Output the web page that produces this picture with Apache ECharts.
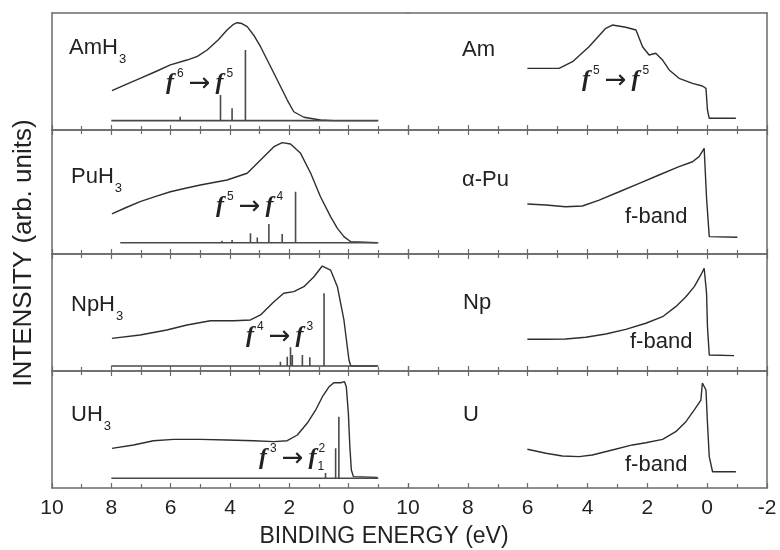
<!DOCTYPE html>
<html><head><meta charset="utf-8">
<script src="https://cdn.jsdelivr.net/npm/echarts@6/dist/echarts.min.js"></script>
<style>html,body{margin:0;padding:0;background:#fff}#c{width:780px;height:550px}</style>
</head><body><div id="c"></div>
<script>
// ---- Data: [binding energy (eV), intensity (arb. units, 0-100 per panel)] ----
const amh3Curve = [[7.98,33.6],[7.5,39],[7.03,44.2],[6.5,50],[6.01,55.6],[5.45,59.8],[5.1,63],[4.77,68.4],[4.4,77],[4.10,85.5],[3.9,90],[3.76,91.7],[3.6,91],[3.42,88.3],[3.2,81],[2.97,71.2],[2.52,48.5],[2.07,25.6],[1.85,15.6],[1.51,10.9],[0.95,8.5],[0.50,8.0],[-0.97,8.0]];
const amh3Sticks = [[5.68,11.4],[4.32,29.9],[3.93,18.5],[3.48,68.4]];
const amh3Base = [8.0,-1.0,8.0];
const amCurve = [[6.01,52.7],[4.95,52.7],[4.50,58.4],[3.95,71.2],[3.39,86.9],[3.17,89.7],[2.72,87.8],[2.38,85.5],[2.16,71.2],[1.94,64.1],[1.72,65.6],[1.49,59.8],[1.27,51.3],[0.94,44.2],[0.49,39.9],[0.16,37.6],[0.04,35.6],[-0.01,17.1],[-0.07,10],[-0.96,10]];

const puh3Curve = [[7.98,32.3],[7.5,37.5],[7.03,42.2],[6.5,46.5],[6.01,50.2],[5.5,53],[5.0,55.6],[4.10,59.7],[3.42,65.1],[2.97,75.8],[2.52,86.5],[2.24,89.8],[1.96,88.7],[1.62,81.2],[1.28,65.1],[0.95,46.2],[0.61,30.1],[0.38,20.7],[0.16,14.0],[-0.07,9.9],[-0.97,9.1]];
const puh3Sticks = [[4.27,10.7],[3.93,11.3],[3.31,16.7],[3.08,13.4],[2.69,24.2],[2.24,16.1],[1.79,50.3]];
const puh3Base = [7.7,-1.0,9.1];
const apuCurve = [[6.01,40.3],[5.39,39.5],[4.73,38.1],[4.17,38.7],[3.61,43.5],[2.94,50.2],[2.27,57.0],[1.61,63.7],[0.94,70.4],[0.49,74.4],[0.27,78.5],[0.10,85.2],[0.02,45],[-0.07,14.0],[-1.01,13.5]];

const nph3Curve = [[7.98,27.9],[7.03,30.8],[6.13,35.0],[5.45,39.3],[4.66,43.0],[3.87,43.0],[3.31,43.6],[2.97,47.9],[2.52,59.2],[2.19,66.4],[1.85,67.8],[1.51,72.1],[1.17,80.6],[0.89,89.7],[0.61,86.3],[0.38,72.1],[0.16,43.6],[-0.01,9.4],[-0.07,4.3],[-0.97,4.3]];
const nph3Sticks = [[2.30,7.9],[2.07,12.2],[1.96,20.2],[1.90,13.7],[1.56,13.7],[1.31,11.7],[0.83,66.4]];
const nph3Base = [8.0,-1.0,4.3];
const npCurve = [[6.01,27.1],[5.39,27.1],[4.73,27.4],[4.06,28.8],[3.39,31.6],[2.72,35.6],[2.05,40.8],[1.49,46.4],[1.05,55.0],[0.71,63.5],[0.43,72.1],[0.21,82.1],[0.10,87.8],[0.02,66.4],[-0.01,37.9],[-0.07,13.7],[-0.90,13.1]];

const uh3Curve = [[7.98,33.9],[7.25,36.8],[6.58,40.4],[5.90,41.6],[5.0,41.6],[4.10,41.0],[3.20,40.4],[2.52,39.6],[2.07,40.4],[1.73,45.3],[1.40,55.3],[1.11,66.7],[0.89,77.8],[0.67,86.3],[0.50,90.0],[0.27,90.0],[0.14,90.9],[0.08,86.6],[0.01,63.8],[-0.04,35.3],[-0.09,15.4],[-0.16,9.7],[-0.97,9.1]];
const uh3Sticks = [[0.78,12.8],[0.44,33.9],[0.33,61.0]];
const uh3Base = [8.0,-1.0,8.3];
const uCurve = [[6.01,33.1],[5.39,29.7],[4.84,27.4],[4.28,26.8],[3.84,28.2],[3.17,32.5],[2.50,36.8],[2.05,38.7],[1.49,41.6],[1.05,48.1],[0.71,56.7],[0.43,66.7],[0.21,75.2],[0.16,89.7],[0.04,83.8],[-0.01,55.6],[-0.07,26.8],[-0.18,13.9],[-0.96,13.9]];

const xTicks = [10,8,6,4,2,0,-2];

// ---- Layout ----
const rows = [[13,130],[130,254],[254,371],[371,488]];
const panels = [[52,356],[408,359]];
const W = 780, H = 550;

const grids = [], xAxes = [], xTop = [], yAxes = [], series = [];
const axisCol = '#6a6a6a', lineCol = '#2e2e2e', textCol = '#222';
for (let r = 0; r < 4; r++) {
  for (let s = 0; s < 2; s++) {
    const gi = r*2 + s;
    grids.push({left: panels[s][0], width: panels[s][1], top: rows[r][0], height: rows[r][1]-rows[r][0], containLabel:false});
    xAxes.push({
      type:'value', gridIndex: gi, min:-2, max:10, interval:2, inverse:true, position:'bottom',
      axisLine:{show:true, onZero:false, lineStyle:{color:axisCol, width:1.5}},
      axisTick:{show:true, inside:true, length:5, lineStyle:{color:axisCol, width:1.2}},
      minorTick:{show:true, splitNumber:2, length:4, lineStyle:{color:axisCol, width:1.2}},
      splitLine:{show:false}, minorSplitLine:{show:false},
      axisLabel:{show: r===3, margin:10, fontSize:21, color:textCol, fontFamily:'Liberation Sans',
        formatter: v => (s===0 && v===-2) ? '' : String(v)}
    });
    xTop.push({
      type:'value', gridIndex: gi, min:-2, max:10, interval:2, inverse:true, position:'top',
      axisLine:{show:true, onZero:false, lineStyle:{color:axisCol, width:1.5}},
      axisTick:{show: r>0, inside:true, length:5, lineStyle:{color:axisCol, width:1.2}},
      minorTick:{show: r>0, splitNumber:2, length:4, lineStyle:{color:axisCol, width:1.2}},
      splitLine:{show:false}, axisLabel:{show:false}
    });
    yAxes.push({
      type:'value', gridIndex: gi, min:0, max:100, position: s===0 ? 'left' : 'right',
      axisLine:{show:true, onZero:false, lineStyle:{color:axisCol, width:1.5}},
      axisTick:{show:false}, axisLabel:{show:false}, splitLine:{show:false}
    });
  }
}

function curve(data, gi) {
  return {type:'line', xAxisIndex:gi, yAxisIndex:gi, data:data, showSymbol:false, silent:true,
    animation:false, lineStyle:{color:lineCol, width:1.4}};
}
function sticks(st, base, gi) {
  const d = [[base[0], base[2]], [base[1], base[2]], [base[1], '-']];
  st.forEach(p => { d.push([p[0], base[2]], [p[0], p[1]], [p[0], '-']); });
  return {type:'line', xAxisIndex:gi, yAxisIndex:gi, data:d, showSymbol:false, silent:true,
    connectNulls:false, animation:false, lineStyle:{color:'#4a4a4a', width:1.6}};
}
series.push(curve(amh3Curve,0), sticks(amh3Sticks, amh3Base, 0), curve(amCurve,1));
series.push(curve(puh3Curve,2), sticks(puh3Sticks, puh3Base, 2), curve(apuCurve,3));
series.push(curve(nph3Curve,4), sticks(nph3Sticks, nph3Base, 4), curve(npCurve,5));
series.push(curve(uh3Curve,6), sticks(uh3Sticks, uh3Base, 6), curve(uCurve,7));

// ---- Text helpers ----
const ctx = document.createElement('canvas').getContext('2d');
function tw(t, font) { ctx.font = font; return ctx.measureText(t).width; }
const F_LAB = '22px "Liberation Sans"', F_SUB = '13px "Liberation Sans"';
const F_F = 'italic bold 24px "Liberation Serif"', F_SUP = '12px "Liberation Sans"', F_AR = '26px "DejaVu Sans"';
function seq(x, y, parts) {
  const els = []; let cx = x;
  parts.forEach(p => {
    cx += (p.dx || 0);
    els.push({type:'text', x:cx, y:y + (p.dy||0), silent:true,
      style:{text:p.t, font:p.f, fill:textCol, align:'left', verticalAlign:'middle'}});
    if (!p.noAdvance) cx += tw(p.t, p.f);
  });
  return els;
}
function chem(x, y, main, sub) {
  const parts = [{t:main, f:F_LAB}];
  if (sub) parts.push({t:sub, f:F_SUB, dy:11, dx:1});
  return seq(x, y, parts);
}
function trans(x, y, a, b, subB) {
  const parts = [{t:'f', f:F_F}, {t:a, f:F_SUP, dy:-9, dx:3}, {t:'\u2192', f:F_AR, dx:5, dy:1}, {t:'f', f:F_F, dx:5}];
  if (subB) {
    parts.push({t:subB, f:F_SUP, dy:9, dx:1, noAdvance:true});
  }
  parts.push({t:b, f:F_SUP, dy:-9, dx:subB ? 1 : 3});
  return seq(x, y, parts);
}

let graphics = [];
graphics = graphics.concat(
  chem(69, 48, 'AmH', '3'), seq(462, 50, [{t:'Am', f:F_LAB}]),
  chem(71, 177, 'PuH', '3'), seq(462, 180, [{t:'\u03b1-Pu', f:F_LAB}]),
  chem(71, 305, 'NpH', '3'), seq(463, 303, [{t:'Np', f:F_LAB}]),
  chem(71, 415, 'UH', '3'), seq(463, 415, [{t:'U', f:F_LAB}]),
  seq(625, 217, [{t:'f-band', f:F_LAB}]),
  seq(630, 342, [{t:'f-band', f:F_LAB}]),
  seq(625, 465, [{t:'f-band', f:F_LAB}]),
  trans(166, 83, '6', '5'),
  trans(582, 80, '5', '5'),
  trans(216, 206, '5', '4'),
  trans(246, 336, '4', '3'),
  trans(259, 458, '3', '2', '1')
);
graphics.push({type:'text', x:24, y:253, rotation:Math.PI/2, silent:true,
  style:{text:'INTENSITY (arb. units)', font:'26px "Liberation Sans"', fill:textCol, align:'center', verticalAlign:'middle'}});
graphics.push({type:'text', x:384, y:537, silent:true,
  style:{text:'BINDING ENERGY (eV)', font:'23px "Liberation Sans"', fill:textCol, align:'center', verticalAlign:'middle'}});

const chart = echarts.init(document.getElementById('c'), null, {renderer:'canvas', width:W, height:H});
chart.setOption({
  animation:false,
  backgroundColor:'#fff',
  grid: grids,
  xAxis: xAxes.concat(xTop),
  yAxis: yAxes,
  series: series,
  graphic: graphics
});
</script></body></html>
